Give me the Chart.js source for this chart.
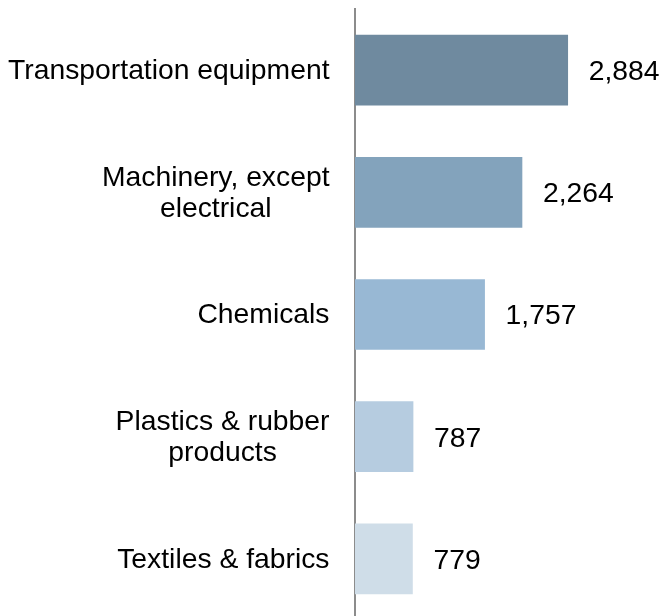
<!DOCTYPE html>
<html>
<head>
<meta charset="utf-8">
<script src="https://cdn.jsdelivr.net/npm/chart.js@4"></script>
<style>
  html, body { margin:0; padding:0; background:#fff; overflow:hidden; }
  #wrap { position:relative; width:660px; height:620px; }
</style>
</head>
<body>
<div id="wrap"><canvas id="c"></canvas></div>
<script>
// datos
const categories = [
  ['Transportation equipment'],
  ['Machinery, except', 'electrical'],
  ['Chemicals'],
  ['Plastics & rubber', 'products'],
  ['Textiles & fabrics']
]
const values = [2884, 2264, 1757, 787, 779]
const barColors = ['#6f8a9f', '#83a3bc', '#98b8d4', '#b6cce0', '#cfdde8']

const FONT = '28.3px "Liberation Sans", Arial, sans-serif'
const fmt = v => v.toLocaleString('en-US')

// etiquetas de categoria: bloque alineado a la derecha, lineas centradas
const catLabels = {
  id: 'catLabels',
  afterDraw(chart) {
    const ctx = chart.ctx, y = chart.scales.y
    const right = 329.5, lh = 31
    ctx.save()
    ctx.font = FONT
    ctx.fillStyle = '#000'
    ctx.textAlign = 'center'
    ctx.textBaseline = 'middle'
    categories.forEach((lines, i) => {
      const w = Math.max(...lines.map(l => ctx.measureText(l).width))
      const cx = right - w / 2
      const cy = y.getPixelForValue(i) + 1
      lines.forEach((l, k) => ctx.fillText(l, cx, cy + (k - (lines.length - 1) / 2) * lh))
    })
    ctx.restore()
  }
}

// valores al final de cada barra
const valueLabels = {
  id: 'valueLabels',
  afterDatasetsDraw(chart) {
    const ctx = chart.ctx
    ctx.save()
    ctx.font = FONT
    ctx.fillStyle = '#000'
    ctx.textAlign = 'left'
    ctx.textBaseline = 'middle'
    chart.getDatasetMeta(0).data.forEach((bar, i) => {
      ctx.fillText(fmt(values[i]), bar.x + 21, bar.y + 2)
    })
    ctx.restore()
  }
}

new Chart(document.getElementById('c'), {
  type: 'bar',
  data: {
    labels: categories,
    datasets: [{ data: values, backgroundColor: barColors, borderWidth: 0, barThickness: 70 }]
  },
  options: {
    indexAxis: 'y',
    responsive: true,
    maintainAspectRatio: false,
    animation: false,
    layout: { padding: { top: 9, left: 0, right: 0, bottom: 0 } },
    plugins: { legend: { display: false }, tooltip: { enabled: false } },
    scales: {
      x: { display: false, min: 0, max: 4135 },
      y: {
        z: 1,
        grid: { display: false },
        border: { display: true, color: '#8c8c8c', width: 2 },
        ticks: { display: false },
        afterFit: s => { s.width = 355 }
      }
    }
  },
  plugins: [catLabels, valueLabels]
})
</script>
</body>
</html>
